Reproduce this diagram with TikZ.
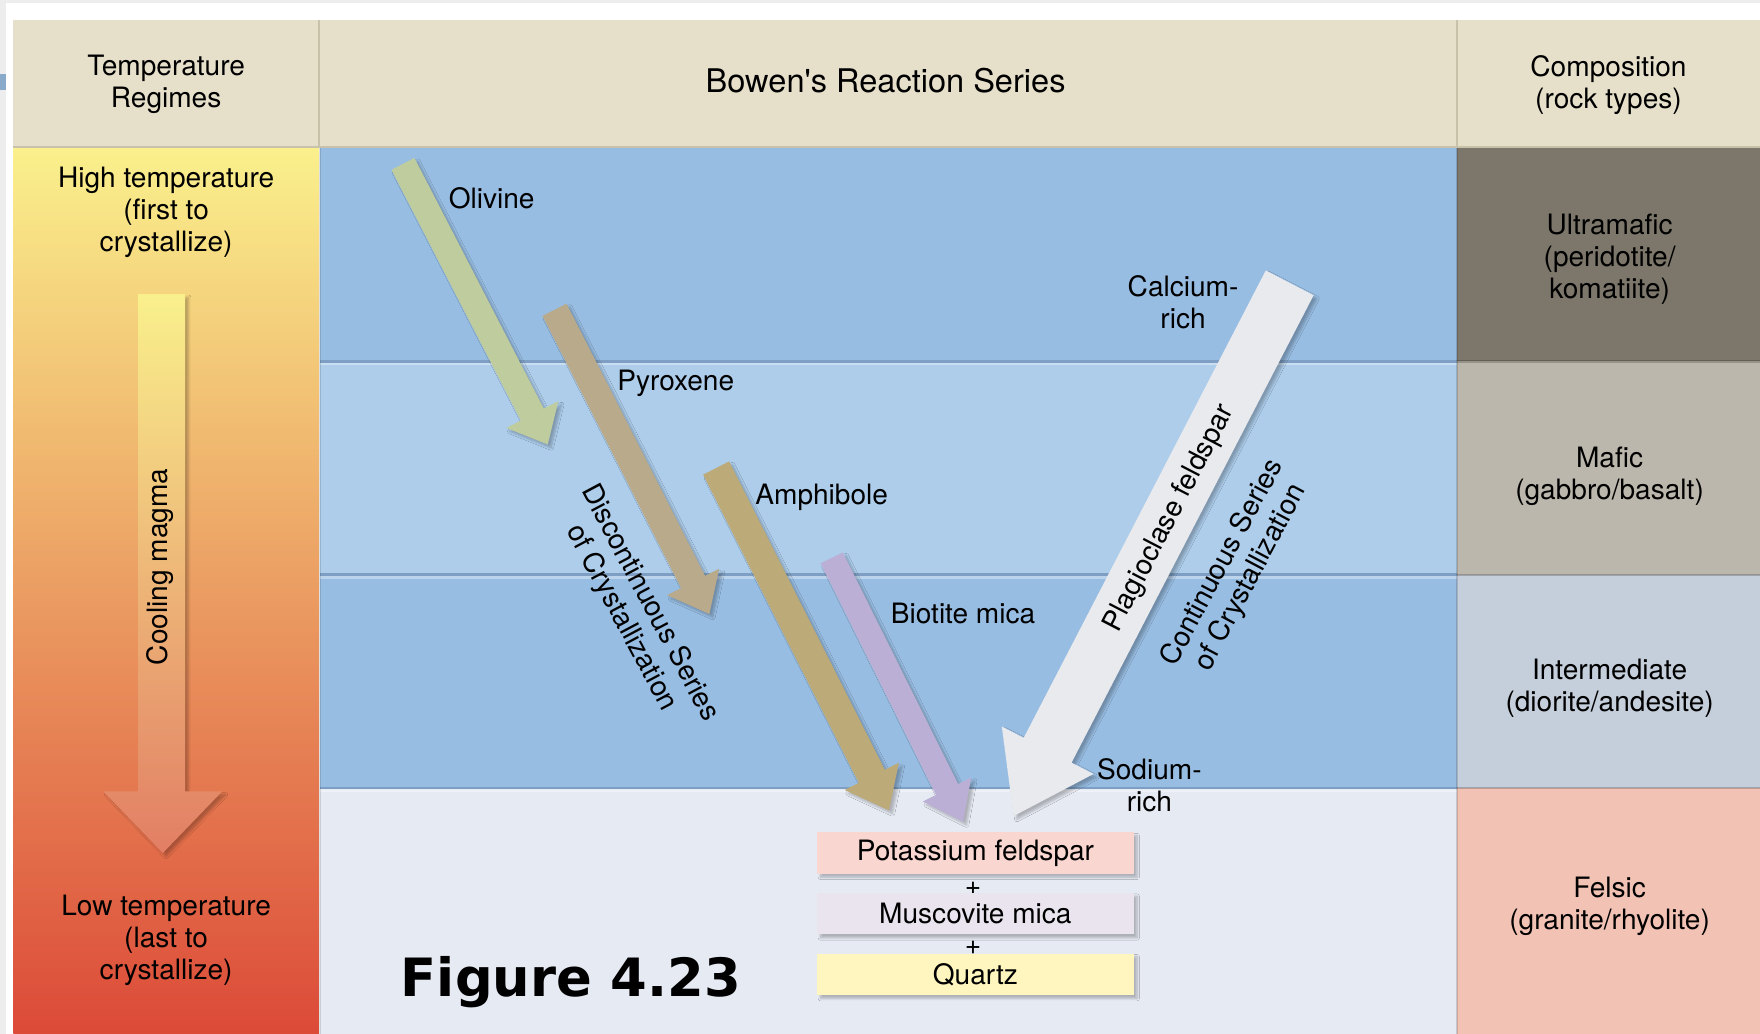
\documentclass[tikz,border=0pt]{standalone}
\usepackage{fontspec}
\setmainfont{TeX Gyre Heros}
\newfontfamily\figfont{DejaVu Sans}
\usetikzlibrary{calc,shadows.blur}

\definecolor{beige}{HTML}{E6E0CB}
\definecolor{beigeedge}{HTML}{C9C2AB}
\definecolor{bluedark}{HTML}{98BDE2}
\definecolor{bluelight}{HTML}{ADCDEB}
\definecolor{blueedge}{HTML}{7E9FC3}
\definecolor{felsicbg}{HTML}{E6EAF3}
\definecolor{ultramafic}{HTML}{7C776A}
\definecolor{mafic}{HTML}{BCB7AC}
\definecolor{intermed}{HTML}{C5CEDB}
\definecolor{felsic}{HTML}{F2C2B4}
\definecolor{hotyellow}{HTML}{FAF08C}
\definecolor{warmorange}{HTML}{ECA464}
\definecolor{coldred}{HTML}{DC4A38}
\definecolor{coolyellow}{HTML}{F9F08C}
\definecolor{coolsalmon}{HTML}{E27E64}
\definecolor{olivine}{HTML}{BECC9E}
\definecolor{pyroxene}{HTML}{B9AA8C}
\definecolor{amphibole}{HTML}{BCAA78}
\definecolor{biotite}{HTML}{BBAFD6}
\definecolor{plagio}{HTML}{E8EAEE}
\definecolor{kspar}{HTML}{F9D6D0}
\definecolor{muscovite}{HTML}{E9E4EE}
\definecolor{quartz}{HTML}{FEF6BE}

\tikzset{
  txt/.style={font=\fontsize{25}{28.5}\selectfont, align=center, inner sep=0pt},
  celltxt/.style={txt, yshift=-2.5pt},
  softshadow/.style={blur shadow={shadow xshift=3pt, shadow yshift=-3pt,
      shadow blur steps=6, shadow opacity=25}},
  mineralbox/.style={txt, minimum width=282, minimum height=37, softshadow}
}

% name, start, tip, shaft half width, head half width, head length, colour
\newcommand\mineralarrow[7]{%
  \coordinate (#1-s) at #2;
  \coordinate (#1-t) at #3;
  \coordinate (#1-h) at ($(#1-t)!#6!(#1-s)$);
  \fill[#7, softshadow] ($(#1-s)!#4!90:(#1-t)$) -- ($(#1-h)!#4!90:(#1-t)$)
    -- ($(#1-h)!#5!90:(#1-t)$) -- (#1-t) -- ($(#1-h)!#5!-90:(#1-t)$)
    -- ($(#1-h)!#4!-90:(#1-t)$) -- ($(#1-s)!#4!-90:(#1-t)$) -- cycle;
}

\begin{document}
\begin{tikzpicture}[x=1pt,y=-1pt]
  \useasboundingbox (0,0) rectangle (1568,921);
  \fill[white] (0,0) rectangle (1568,921);
  \fill[black!7] (0,0) rectangle (1568,3);
  \fill[black!7] (0,0) rectangle (5,921);
  \fill[bluedark!90!black] (0,66) rectangle (5,80);

  % header row
  \fill[beige] (12,18) rectangle (1568,132);
  \draw[beigeedge, line width=2] (12,131) -- (1568,131);
  \draw[beigeedge, line width=2] (284,18) -- (284,132) (1298,18) -- (1298,132);

  % temperature column
  \shade[top color=hotyellow, middle color=warmorange, bottom color=coldred]
    (12,132) rectangle (284,921);

  % series bands
  \fill[bluedark] (285,132) rectangle (1298,322);
  \fill[bluelight] (285,322) rectangle (1298,512);
  \fill[bluedark] (285,512) rectangle (1298,702);
  \fill[felsicbg] (285,702) rectangle (1298,921);
  \foreach \y in {322,512,702}{
    \draw[blueedge, line width=2.5] (285,\y) -- (1298,\y);
    \draw[white, opacity=.35, line width=2] (285,\y+2.5) -- (1298,\y+2.5);
  }
  \draw[black, opacity=.12, line width=2] (285,132) -- (285,921);

  % composition column
  \fill[ultramafic] (1298,132) rectangle (1568,322);
  \fill[mafic] (1298,322) rectangle (1568,512);
  \fill[intermed] (1298,512) rectangle (1568,702);
  \fill[felsic] (1298,702) rectangle (1568,921);
  \foreach \y in {322,512,702}
    \draw[black, opacity=.2, line width=2] (1298,\y) -- (1568,\y);
  \draw[black, opacity=.15, line width=2] (1298,132) -- (1298,921);

  % cooling arrow
  \shade[top color=coolyellow, bottom color=coolsalmon, softshadow]
    (123,262) -- (165,262) -- (165,705) -- (198,705) -- (145,760)
    -- (92,705) -- (123,705) -- cycle;
  \node[txt, rotate=90] (cool) at (143,505) {Cooling magma};

  % discontinuous branch
  \mineralarrow{ol}{(359,146)}{(488,396)}{11.5pt}{26pt}{30pt}{olivine}
  \mineralarrow{px}{(494,276)}{(632,547)}{12pt}{26pt}{32pt}{pyroxene}
  \mineralarrow{am}{(638,417)}{(792,722)}{13pt}{27pt}{34pt}{amphibole}
  \mineralarrow{bt}{(741,497)}{(858,732)}{11pt}{24pt}{32pt}{biotite}
  % continuous branch
  \mineralarrow{pl}{(1149,252)}{(903,727)}{24pt}{46pt}{66pt}{plagio}

  \node[celltxt] (hdtemp) at (148,73) {Temperature\\Regimes};
  \node[celltxt, font=\fontsize{29}{33}\selectfont] (hdseries) at (789,69)
    {Bowen\textquotesingle s Reaction Series};
  \node[celltxt] (hdcomp) at (1433,73) {Composition\\(rock types)};

  \node[celltxt] (high) at (148,187) {High temperature\\(first to\\crystallize)};
  \node[celltxt] (low) at (148,835) {Low temperature\\(last to\\crystallize)};

  \node[celltxt] (umaf) at (1434,228) {Ultramafic\\(peridotite/\\komatiite)};
  \node[celltxt] (maf) at (1434,422) {Mafic\\(gabbro/basalt)};
  \node[celltxt] (inter) at (1434,611) {Intermediate\\(diorite/andesite)};
  \node[celltxt] (fel) at (1434,805) {Felsic\\(granite/rhyolite)};

  \node[celltxt] (olname) at (438,174) {Olivine};
  \node[celltxt] (pxname) at (602,339) {Pyroxene};
  \node[celltxt] (amname) at (732,441) {Amphibole};
  \node[celltxt] (btname) at (858,544) {Biotite mica};
  \node[celltxt] (ca) at (1054,267) {Calcium-\\rich};
  \node[celltxt] (na) at (1024,697) {Sodium-\\rich};

  \node[txt, rotate=-62] (disc) at (566,544) {Discontinuous Series\\of Crystallization};
  \node[txt, rotate=62.6] (plname) at (1042,462) {Plagioclase feldspar};
  \node[txt, rotate=62] (cont) at (1102,508) {Continuous Series\\of Crystallization};

  % last minerals
  \node[mineralbox, fill=kspar] (kfs) at (869,760) {Potassium feldspar};
  \node[celltxt] (plusa) at (867,789) {+};
  \node[mineralbox, fill=muscovite] (ms) at (869,814) {Muscovite mica};
  \node[celltxt] (plusb) at (867,842) {+};
  \node[mineralbox, fill=quartz] (qz) at (869,868) {Quartz};

  \node[font=\figfont\bfseries\fontsize{47}{50}\selectfont, anchor=base west,
    inner sep=0pt] (fig) at (357,888) {Figure 4.23};
\end{tikzpicture}
\end{document}
